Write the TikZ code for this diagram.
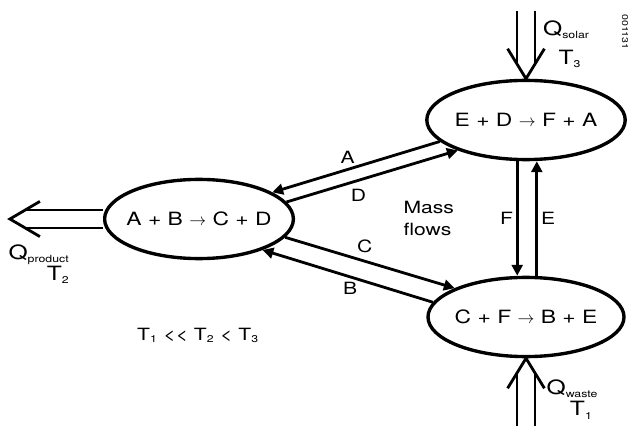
\documentclass[tikz,border=0pt]{standalone}
\usepackage{fontspec}
\setmainfont{TeX Gyre Heros}[FakeStretch=1.25]
\usetikzlibrary{arrows.meta,positioning,calc,shapes.geometric}
\newcommand{\qsub}[1]{\textsubscript{\fontsize{7}{8}\selectfont #1}}
\tikzset{
  reactbox/.style={
    ellipse, draw, line width=2.4pt,
    minimum width=#1, minimum height=1.98cm,
    inner ysep=0pt, inner xsep=-1cm, font=\fontsize{13}{15}\selectfont
  },
  reactbox/.default=4.9cm,
  flow/.style={
    line width=2pt, -{Triangle[length=0.27cm, width=0.27cm]}
  },
  flowlabel/.style={font=\fontsize{12}{14}\selectfont, inner sep=2pt},
  heatline/.style={
    double, double distance=0.38cm, line width=2pt, shorten >=0.37cm
  },
  heatbarb/.style={line width=2pt, line join=miter},
  heatlabel/.style={font=\fontsize{14}{15}\selectfont, align=right, inner sep=0pt},
}
\begin{document}
\begin{tikzpicture}
  \useasboundingbox (0,0) rectangle (15.975,10.65);

  % reactors
  \node[reactbox=4.72cm] (prodE) at (4.975,5.175) {A + B $\rightarrow$ C + D};
  \node[reactbox=4.96cm] (solE) at (13.15,7.65) {E + D $\rightarrow$ F + A};
  \node[reactbox=4.9cm] (wasteE) at (13.15,2.725) {C + F $\rightarrow$ B + E};

  % mass flows between the reactors
  \draw[flow] (solE.194) -- node[flowlabel, above=1pt, pos=0.55] {A} (prodE.20);
  \draw[flow] (prodE.11) -- node[flowlabel, below=3pt, pos=0.42] {D} (solE.204);
  \draw[flow] (prodE.348) -- node[flowlabel, above=3pt, pos=0.47] {C} (wasteE.158);
  \draw[flow] (wasteE.171) -- node[flowlabel, below=1pt, pos=0.485] {B} (prodE.334);
  \draw[flow] ([xshift=-0.22cm]solE.south) -- node[flowlabel, left] {F} ([xshift=-0.22cm]wasteE.north);
  \draw[flow] ([xshift=0.27cm]wasteE.north) -- node[flowlabel, right] {E} ([xshift=0.27cm]solE.south);
  \node[flowlabel, align=left, font=\fontsize{12}{15.5}\selectfont] (mass) at (10.72,5.19) {Mass\\flows};

  % heat in and out
  \coordinate[above=1.7cm of solE.north] (solTop);
  \draw[heatline] (solTop) -- (solE.north);
  \draw[heatbarb] ($(solE.north)+(-0.46,0.75)$) -- (solE.north) -- ($(solE.north)+(0.46,0.75)$);
  \node[heatlabel] (qsolar) at (14.16,9.54) {Q\qsub{solar}\\[6pt]T\qsub{3}\hspace*{6pt}};

  \coordinate[below=1.7cm of wasteE.south] (wasteBot);
  \draw[heatline] (wasteBot) -- (wasteE.south);
  \draw[heatbarb] ($(wasteE.south)+(-0.46,-0.75)$) -- (wasteE.south) -- ($(wasteE.south)+(0.46,-0.75)$);
  \node[heatlabel] (qwaste) at (14.31,0.66) {Q\qsub{waste}\\T\qsub{1}\hspace*{4pt}};

  \coordinate[left=2.325cm of prodE.west] (prodTip);
  \draw[heatline] (prodE.west) -- (prodTip);
  \draw[heatbarb] ($(prodTip)+(0.75,0.44)$) -- (prodTip) -- ($(prodTip)+(0.75,-0.44)$);
  \node[heatlabel] (qprod) at (0.975,4.05) {Q\qsub{product}\\T\qsub{2}};

  \node[font=\fontsize{12}{14}\selectfont] (temps) at (4.95,2.26)
    {T\qsub{1} <{}< T\qsub{2} < T\qsub{3}};
  \node[font=\fontsize{6}{7}\selectfont, rotate=-90] (code) at (15.625,9.85) {001131};
\end{tikzpicture}
\end{document}
